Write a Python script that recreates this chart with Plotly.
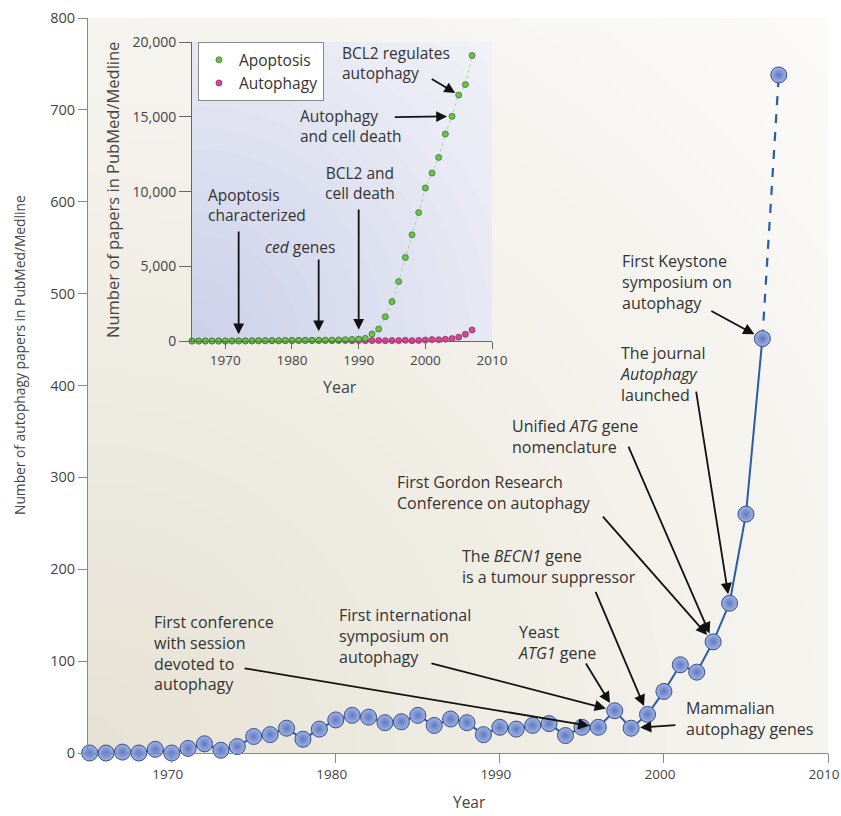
import plotly.graph_objects as go

# ---------------- data ----------------
years = list(range(1965, 2008))
autophagy_papers = [0, 0, 1, 0, 4, 0, 5, 10, 3, 7,
                    18, 20, 27, 15, 26, 36, 41, 39, 33, 34,
                    41, 30, 37, 33, 20, 28, 26, 30, 32, 19,
                    28, 28, 46, 27, 42, 67, 96, 88, 121, 163,
                    260, 451, 738]
apoptosis_papers = [0, 0, 0, 0, 0, 0, 0, 0, 10, 10,
                    10, 20, 20, 20, 30, 30, 30, 40, 40, 50,
                    50, 60, 70, 90, 110, 130, 180, 470, 800, 1630,
                    2640, 3980, 5590, 7110, 8600, 10240, 11240, 12290, 13860, 15040,
                    16470, 17170, 19110]
main_xticks = [1970, 1980, 1990, 2000, 2010]
main_yticks = [0, 100, 200, 300, 400, 500, 600, 700, 800]
inset_xticks = [1970, 1980, 1990, 2000, 2010]
inset_yticks = [0, 5000, 10000, 15000, 20000]

# events on the main chart (text, year of the point the arrow hits)
main_event_texts = [
    "First conference<br>with session<br>devoted to<br>autophagy",
    "First international<br>symposium on<br>autophagy",
    "Yeast<br><i>ATG1</i> gene",
    "The <i>BECN1</i> gene<br>is a tumour suppressor",
    "Mammalian<br>autophagy genes",
    "First Gordon Research<br>Conference on autophagy",
    "Unified <i>ATG</i> gene<br>nomenclature",
    "The journal<br><i>Autophagy</i><br>launched",
    "First Keystone<br>symposium on<br>autophagy",
]
main_event_years = [1996, 1997, 1997, 1999, 1998, 2003, 2003, 2004, 2006]

inset_event_texts = [
    "BCL2 regulates<br>autophagy",
    "Autophagy<br>and cell death",
    "BCL2 and<br>cell death",
    "<i>ced</i> genes",
    "Apoptosis<br>characterized",
]
inset_event_years = [2005, 2004, 1990, 1984, 1972]

# ---------------- layout helpers (positions / styles) ----------------
FONT = "Open Sans"
TXT = "#333333"
# text anchor (x, y, xanchor) and arrow tail (ax, ay) in data units
main_event_layout = [
    dict(tx=1968.8, ty=108.8, anchor="left", ax=1974.35, ay=92.5),
    dict(tx=1980.1, ty=127.3, anchor="left", ax=1985.74, ay=98),
    dict(tx=1991.0, ty=120.8, anchor="left", ax=1995.19, ay=99),
    dict(tx=1987.6, ty=203.5, anchor="left", ax=1995.8, ay=177),
    dict(tx=2001.2, ty=37.6, anchor="left", ax=2000.79, ay=30.5),
    dict(tx=1983.6, ty=283.5, anchor="left", ax=1996.2, ay=259),
    dict(tx=1990.6, ty=345.0, anchor="left", ax=1997.8, ay=335),
    dict(tx=1997.2, ty=412.5, anchor="left", ax=2001.95, ay=395),
    dict(tx=1997.3, ty=512.7, anchor="left", ax=2002.8, ay=482),
]
inset_event_layout = [
    dict(tx=1987.2, ty=18600, anchor="left", ax=2000.74, ay=17595, hy=None, so=4),
    dict(tx=1980.9, ty=14384, anchor="left", ax=1995.18, ay=14986, hy=None, so=5),
    dict(tx=1990.2, ty=10570, anchor="center", ax=1990, ay=8898, hy=750, so=0),
    dict(tx=1975.66, ty=6289, anchor="left", ax=1984, ay=5553, hy=650, so=0),
    dict(tx=1967.1, ty=9098, anchor="left", ax=1972, ay=7426, hy=450, so=0),
]

fig = go.Figure()

# ---------------- main chart ----------------
fig.add_trace(go.Scatter(
    x=years[:-1], y=autophagy_papers[:-1], mode="lines",
    line=dict(color="#2a5ca8", width=2), showlegend=False,
    hoverinfo="skip", cliponaxis=False))
fig.add_trace(go.Scatter(
    x=years[-2:], y=autophagy_papers[-2:], mode="lines",
    line=dict(color="#2a5ca8", width=2.2, dash="dash"), showlegend=False,
    hoverinfo="skip", cliponaxis=False))
fig.add_trace(go.Scatter(
    x=years, y=autophagy_papers, mode="markers",
    marker=dict(size=16, color="#9fb3e6",
                gradient=dict(type="radial", color="#6079bf"),
                line=dict(color="#3a4c84", width=1)),
    showlegend=False, cliponaxis=False, name="Autophagy papers"))

# ---------------- inset ----------------
fig.add_trace(go.Scatter(
    x=years, y=autophagy_papers, mode="markers", name="Autophagy",
    xaxis="x2", yaxis="y2", cliponaxis=False,
    marker=dict(size=6, color="#d4488f", line=dict(color="#8e2d60", width=0.8))))
fig.add_trace(go.Scatter(
    x=years, y=apoptosis_papers, mode="lines", showlegend=False,
    xaxis="x2", yaxis="y2", cliponaxis=False, hoverinfo="skip",
    line=dict(color="#a6d597", width=1, dash="dot")))
fig.add_trace(go.Scatter(
    x=years, y=apoptosis_papers, mode="markers", name="Apoptosis",
    xaxis="x2", yaxis="y2", cliponaxis=False,
    marker=dict(size=6, color="#6fc052", line=dict(color="#33792b", width=0.8))))

# ---------------- background gradients (shapes) ----------------
shapes = []
def lerp(c1, c2, t):
    a = [int(c1[i:i + 2], 16) for i in (1, 3, 5)]
    b = [int(c2[i:i + 2], 16) for i in (1, 3, 5)]
    return "rgb(%d,%d,%d)" % tuple(round(a[k] + (b[k] - a[k]) * t) for k in range(3))

# main plot: radial from bottom-left corner, px scale 16.41 px/yr, 0.91875 px/unit
N = 28
RMAX = 1080.0
for i in range(N):
    r = RMAX * (1 - i / N)
    t = r / RMAX
    col = lerp("#e4e0d2", "#fcfbf9", t ** 0.85)
    shapes.append(dict(type="circle", xref="x", yref="y", layer="below",
                       x0=1964.9 - r / 16.41, x1=1964.9 + r / 16.41,
                       y0=-r / 0.91875, y1=r / 0.91875,
                       fillcolor=col, line=dict(width=0)))
# inset: radial from its bottom-left corner, 6.66 px/yr, 0.01495 px/unit
N2 = 22
R2 = 470.0
for i in range(N2):
    r = R2 * (1 - i / N2)
    t = r / R2
    col = lerp("#cbd0ea", "#f5f5f8", t)
    shapes.append(dict(type="circle", xref="x2", yref="y2", layer="below",
                       x0=1965 - r / 6.66, x1=1965 + r / 6.66,
                       y0=-r / 0.01495, y1=r / 0.01495,
                       fillcolor=col, line=dict(width=0)))

# ---------------- annotations ----------------
ann = []
for txt, yr, L in zip(main_event_texts, main_event_years, main_event_layout):
    hy = autophagy_papers[years.index(yr)]
    ann.append(dict(x=yr, y=hy, xref="x", yref="y", text="", showarrow=True,
                    axref="x", ayref="y", ax=L["ax"], ay=L["ay"],
                    arrowhead=2, arrowsize=1.25, arrowwidth=1.8, arrowcolor="#111",
                    standoff=9))
    ann.append(dict(x=L["tx"], y=L["ty"], xref="x", yref="y", text=txt,
                    showarrow=False, xanchor=L["anchor"], yanchor="middle",
                    align="left", font=dict(family=FONT, size=16, color=TXT)))

for txt, yr, L in zip(inset_event_texts, inset_event_years, inset_event_layout):
    hy = apoptosis_papers[years.index(yr)] if L["hy"] is None else L["hy"]
    ann.append(dict(x=yr, y=hy, xref="x2", yref="y2", text="", showarrow=True,
                    axref="x2", ayref="y2", ax=L["ax"], ay=L["ay"],
                    arrowhead=2, arrowsize=1.2, arrowwidth=1.8, arrowcolor="#111",
                    standoff=L["so"]))
    ann.append(dict(x=L["tx"], y=L["ty"], xref="x2", yref="y2", text=txt,
                    showarrow=False, xanchor=L["anchor"], yanchor="middle",
                    align="left" if L["anchor"] == "left" else "center",
                    font=dict(family=FONT, size=15.5, color=TXT)))

# axis titles
title_common = dict(xref="paper", yref="paper", showarrow=False,
                    xanchor="center", yanchor="middle")
ann += [
    dict(x=-0.0919, y=0.5415, text="Number of autophagy papers in PubMed/Medline",
         textangle=-90, font=dict(family=FONT, size=13.8, color="#444"), **title_common),
    dict(x=0.516, y=-0.0667, text="Year",
         font=dict(family=FONT, size=15.5, color="#444"), **title_common),
    dict(x=0.0338, y=0.766, text="Number of papers in PubMed/Medline",
         textangle=-90, font=dict(family=FONT, size=16.5, color="#444"), **title_common),
    dict(x=0.3405, y=0.498, text="Year",
         font=dict(family=FONT, size=16, color="#444"), **title_common),
]

main_axis = dict(showgrid=False, zeroline=False, showline=True, automargin=False,
                 ticks="outside", tickcolor="#8a8a8a", linecolor="#8a8a8a",
                 linewidth=1)
inset_axis = dict(showgrid=False, zeroline=False, showline=True, automargin=False,
                  ticks="outside", tickcolor="#666", linecolor="#666",
                  linewidth=1)

fig.update_layout(
    width=841, height=816,
    margin=dict(l=88, r=13, t=18, b=63, autoexpand=False),
    paper_bgcolor="white", plot_bgcolor="#fcfbf9",
    font=dict(family=FONT, color="#444"),
    shapes=shapes, annotations=ann,
    xaxis=dict(domain=[0, 1], range=[1964.9, 2010], tickvals=main_xticks,
               ticklabeloverflow="allow", ticklabelshift=-4,
               ticklen=9, tickfont=dict(size=13.5, color="#444"), **main_axis),
    yaxis=dict(domain=[0, 1], range=[0, 800], tickvals=main_yticks,
               ticklen=9, tickfont=dict(size=14.5, color="#444"), **main_axis),
    xaxis2=dict(domain=[0.1405, 0.546], anchor="y2", range=[1965, 2010],
                tickvals=inset_xticks, ticklen=7,
                tickfont=dict(size=13.5, color="#444"), **inset_axis),
    yaxis2=dict(domain=[0.5605, 0.967], anchor="x2", range=[0, 20000],
                tickvals=inset_yticks, tickformat=",", ticklen=12,
                tickfont=dict(size=14, color="#444"), **inset_axis),
    legend=dict(x=0.1486, y=0.967, xanchor="left", yanchor="top",
                bgcolor="white", bordercolor="#8a8a8a", borderwidth=1,
                traceorder="reversed", font=dict(family=FONT, size=15.5, color=TXT),
                itemwidth=30, tracegroupgap=0),
    showlegend=True,
)

# remove the default 8px page margin so the figure sits at the window's origin
fig.write_html("out.html",
               config={"displayModeBar": False},
               post_script="document.body.style.margin='0px';"
                           "document.body.style.overflow='hidden';")
